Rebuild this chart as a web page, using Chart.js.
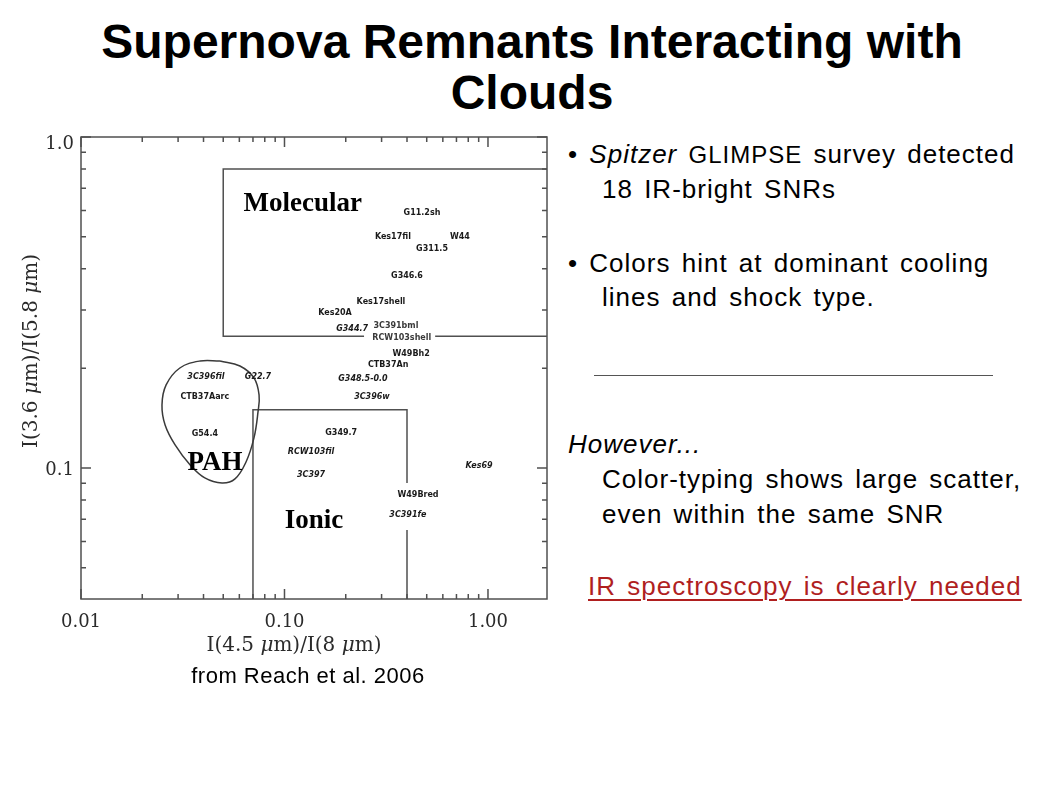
<!DOCTYPE html>
<html>
<head>
<meta charset="utf-8">
<script src="https://cdn.jsdelivr.net/npm/chart.js@4.4.1/dist/chart.umd.min.js"></script>
<style>
  html, body { margin: 0; padding: 0; background: #fff; }
  body { width: 1058px; height: 793px; position: relative; overflow: hidden; font-family: "Liberation Sans", Arial, sans-serif; color: #000; }
  .title { position: absolute; left: 0; top: 16px; width: 1064px; text-align: center; font-weight: bold; font-size: 48px; line-height: 51px; }
  .txt { position: absolute; font-size: 26px; line-height: 30px; letter-spacing: 1px; word-spacing: 3px; white-space: nowrap; }
  .rule { position: absolute; left: 594px; top: 375px; width: 399px; border-top: 1.5px solid #555; }
  .red { color: #b01f1f; text-decoration: underline; text-underline-offset: 4px; text-decoration-thickness: 1.5px; }
  .cite { position: absolute; left: 108px; top: 663px; width: 400px; text-align: center; font-size: 22px; line-height: 26px; letter-spacing: 0.5px; }
  #chartBox { position: absolute; left: 0; top: 120px; width: 560px; height: 550px; }
</style>
</head>
<body>
<div class="title">Supernova Remnants Interacting with<br>Clouds</div>

<div class="txt" style="left:568px; top:139px;">• <i>Spitzer</i> <span style="font-size:24px">GLIMPSE</span> survey detected</div>
<div class="txt" style="left:602px; top:174px;">18 IR-bright SNRs</div>
<div class="txt" style="left:568px; top:248px;">• Colors hint at dominant cooling</div>
<div class="txt" style="left:602px; top:282px;">lines and shock type.</div>
<div class="rule"></div>
<div class="txt" style="left:568px; top:429px;"><i>However...</i></div>
<div class="txt" style="left:602px; top:464px;">Color-typing shows large scatter,</div>
<div class="txt" style="left:602px; top:499px;">even within the same SNR</div>
<div class="txt red" style="left:588px; top:571px;">IR spectroscopy is clearly needed</div>

<div id="chartBox"><canvas id="colorChart"></canvas></div>
<div class="cite">from Reach et al. 2006</div>

<script>
// SNR colour-colour points: x = I(4.5)/I(8), y = I(3.6)/I(5.8)
const snrNames = ["G11.2sh", "Kes17fil", "W44", "G311.5", "G346.6", "Kes17shell", "Kes20A", "G344.7",
    "3C391bml", "RCW103shell", "W49Bh2", "CTB37An", "3C396fil", "G22.7", "G348.5-0.0", "CTB37Aarc",
    "3C396w", "G54.4", "G349.7", "RCW103fil", "3C397", "Kes69", "W49Bred", "3C391fe"];
const ratio45to8 = [0.474, 0.341, 0.728, 0.531, 0.400, 0.298, 0.177, 0.215,
    0.353, 0.377, 0.419, 0.323, 0.0411, 0.0741, 0.243, 0.0406,
    0.269, 0.0406, 0.190, 0.135, 0.135, 0.904, 0.453, 0.404];
const ratio36to58 = [0.589, 0.499, 0.499, 0.459, 0.380, 0.317, 0.294, 0.263,
    0.269, 0.247, 0.221, 0.205, 0.188, 0.188, 0.186, 0.164,
    0.164, 0.127, 0.128, 0.112, 0.0952, 0.1014, 0.0828, 0.0721];

// region outlines (null = break in the line)
const molecularX = [3, 0.05, 0.05, 0.246, 0.4, 0.55, 3];
const molecularY = [0.8, 0.8, 0.25, 0.25, null, 0.25, 0.25];
const ionicX = [0.07, 0.07, 0.4, 0.4, 0.4, 0.4, 0.4];
const ionicY = [0.03, 0.15, 0.15, 0.0901, null, 0.065, 0.03];
const pahX = [0.0482, 0.0604, 0.0708, 0.0750, 0.0741, 0.0708, 0.0647, 0.0571, 0.0493,
    0.0406, 0.0344, 0.0290, 0.0259, 0.0250, 0.0262, 0.0306, 0.0385, 0.0482];
const pahY = [0.2105, 0.2033, 0.1871, 0.1662, 0.1477, 0.1233, 0.1043, 0.0927, 0.0901,
    0.0933, 0.1021, 0.1174, 0.1349, 0.1550, 0.1782, 0.2005, 0.2105, 0.2105];

const regionNames = ["Molecular", "PAH", "Ionic"];
const regionX = [0.123, 0.0455, 0.1396];
const regionY = [0.627, 0.1035, 0.0692];

// axis ticks
const xMajorTicks = [0.01, 0.1, 1];
const xTickLabels = ["0.01", "0.10", "1.00"];
const xMinorTicks = [0.02, 0.03, 0.04, 0.05, 0.06, 0.07, 0.08, 0.09, 0.2, 0.3, 0.4, 0.5, 0.6, 0.7, 0.8, 0.9];
const yMajorTicks = [0.1, 1];
const yTickLabels = ["0.1", "1.0"];
const yMinorTicks = [0.05, 0.06, 0.07, 0.08, 0.09, 0.2, 0.3, 0.4, 0.5, 0.6, 0.7, 0.8, 0.9];

const italicNames = ["G344.7", "3C396fil", "G22.7", "G348.5-0.0", "3C396w", "RCW103fil", "3C397", "Kes69", "3C391fe"];
const lightNames = ["3C391bml", "RCW103shell"];
const lineGray = "#505050";
const axisFont = '"DejaVu Serif", serif';

const toPoints = (xs, ys) => xs.map((x, i) => ({ x: x, y: ys[i] }));

function drawRuns(ctx, runs, cx, cy, size) {
    const fonts = runs.map(([, it]) => (it ? "italic " : "") + size + "px " + axisFont);
    const widths = runs.map(([t], i) => { ctx.font = fonts[i]; return ctx.measureText(t).width; });
    let xx = cx - widths.reduce((s, w) => s + w, 0) / 2;
    ctx.textAlign = "left";
    runs.forEach(([t], i) => { ctx.font = fonts[i]; ctx.fillText(t, xx, cy); xx += widths[i]; });
}

const framePlugin = {
    id: "frame",
    afterDatasetsDraw(chart) {
        const { ctx, chartArea: a, scales: { x, y } } = chart;
        const snrMeta = chart.getDatasetMeta(2);
        ctx.save();

        // SNR names at their points
        ctx.textAlign = "center";
        ctx.textBaseline = "middle";
        snrMeta.data.forEach((pt, i) => {
            const name = snrNames[i];
            ctx.fillStyle = lightNames.includes(name) ? "#3a3a3a" : "#1a1a1a";
            ctx.font = (italicNames.includes(name) ? "italic " : "") + 'bold 8px "DejaVu Sans", sans-serif';
            ctx.fillText(name, pt.x, pt.y);
        });

        // region names
        ctx.font = 'bold 27px "Liberation Serif", "Times New Roman", serif';
        ctx.fillStyle = "#000";
        regionNames.forEach((n, i) => {
            ctx.fillText(n, x.getPixelForValue(regionX[i]), y.getPixelForValue(regionY[i]));
        });

        // frame and inward ticks on all sides
        ctx.strokeStyle = lineGray;
        ctx.lineWidth = 1.5;
        ctx.strokeRect(a.left, a.top, a.right - a.left, a.bottom - a.top);
        ctx.beginPath();
        const xTick = (v, len) => {
            const px = x.getPixelForValue(v);
            ctx.moveTo(px, a.bottom); ctx.lineTo(px, a.bottom - len);
            ctx.moveTo(px, a.top); ctx.lineTo(px, a.top + len);
        };
        const yTick = (v, len) => {
            const py = y.getPixelForValue(v);
            ctx.moveTo(a.left, py); ctx.lineTo(a.left + len, py);
            ctx.moveTo(a.right, py); ctx.lineTo(a.right - len, py);
        };
        xMinorTicks.forEach((v) => xTick(v, 5));
        xMajorTicks.forEach((v) => xTick(v, 10));
        yMinorTicks.forEach((v) => yTick(v, 5));
        yMajorTicks.forEach((v) => yTick(v, 10));
        ctx.stroke();

        // tick labels
        ctx.fillStyle = "#2b2b2b";
        ctx.font = "18px " + axisFont;
        ctx.textBaseline = "middle";
        ctx.textAlign = "center";
        xMajorTicks.forEach((v, i) => ctx.fillText(xTickLabels[i], x.getPixelForValue(v), a.bottom + 23));
        ctx.textAlign = "right";
        yMajorTicks.forEach((v, i) => ctx.fillText(yTickLabels[i], a.left - 7, y.getPixelForValue(v) + (v === 1 ? 7 : 2)));

        // axis titles
        drawRuns(ctx, [["I(4.5 ", false], ["\u03bc", true], ["m)/I(8 ", false], ["\u03bc", true], ["m)", false]],
            a.left + 213, a.bottom + 47, 20);
        ctx.translate(a.left - 49, a.top + 214);
        ctx.rotate(-Math.PI / 2);
        drawRuns(ctx, [["I(3.6 ", false], ["\u03bc", true], ["m)/I(5.8 ", false], ["\u03bc", true], ["m)", false]],
            0, 0, 20);
        ctx.restore();
    }
};

const outline = { showLine: true, borderColor: lineGray, borderWidth: 1.5, pointRadius: 0, pointHoverRadius: 0, spanGaps: false, tension: 0 };

new Chart(document.getElementById("colorChart"), {
    type: "scatter",
    data: {
        datasets: [
            { ...outline, label: "Molecular", data: toPoints(molecularX, molecularY), order: 3 },
            { ...outline, label: "Ionic", data: toPoints(ionicX, ionicY), order: 3 },
            { label: "SNR", data: toPoints(ratio45to8, ratio36to58), showLine: false, pointRadius: 0, pointHoverRadius: 0, order: 2 },
            { ...outline, label: "PAH", data: toPoints(pahX, pahY), tension: 0.4, borderColor: "#3a3a3a", order: 1 }
        ]
    },
    options: {
        responsive: true,
        maintainAspectRatio: false,
        animation: false,
        events: [],
        layout: { padding: { left: 81, top: 17, right: 13, bottom: 71 } },
        plugins: { legend: { display: false }, tooltip: { enabled: false } },
        scales: {
            x: { type: "logarithmic", min: 0.01, max: 1.95, display: false },
            y: { type: "logarithmic", min: 0.0402, max: 1.0, display: false }
        }
    },
    plugins: [framePlugin]
});
</script>
</body>
</html>
